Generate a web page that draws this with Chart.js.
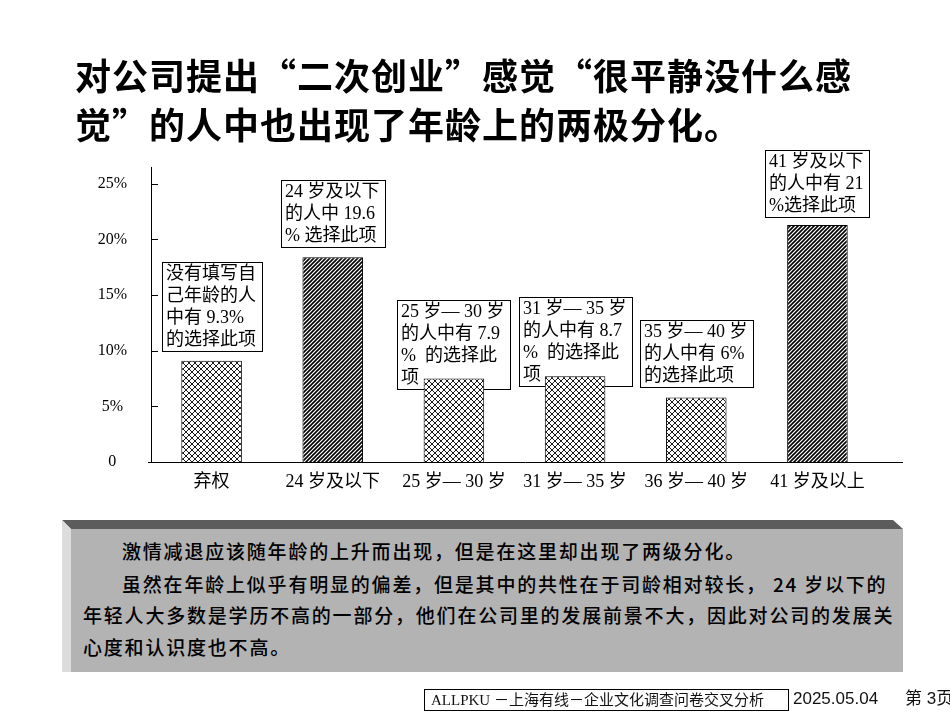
<!DOCTYPE html>
<html lang="zh-CN">
<head>
<meta charset="utf-8">
<script src="https://cdn.jsdelivr.net/npm/chart.js@4.4.1/dist/chart.umd.min.js"></script>
<style>
  body { margin: 0; background: #fff; }
  #page { position: relative; width: 950px; height: 713px; overflow: hidden; font-family: "Noto Sans CJK SC", sans-serif; }
  #chart { position: absolute; left: 0; top: 0; }
  .title { position: absolute; left: 75px; top: 50px; font-size: 36px; font-weight: bold; line-height: 49px; letter-spacing: 1px; color: #000; white-space: nowrap; }
  .panel { position: absolute; left: 62px; top: 520px; width: 841px; height: 152px; }
  .panel div { position: absolute; }
  .face { left: 9px; top: 9px; right: 0; bottom: 0; background: #b3b3b3; }
  .topBevel { left: 0; top: 0; width: 841px; height: 9px; background: #5c5c5c; clip-path: polygon(0 0, 831px 0, 841px 9px, 9px 9px); }
  .leftBevel { left: 0; top: 0; width: 9px; height: 152px; background: #dcdcdc; clip-path: polygon(0 0, 9px 9px, 9px 152px, 0 152px); }
  .line { left: 21px; font-size: 19px; font-weight: 500; line-height: 32px; letter-spacing: 1.8px; color: #000; white-space: nowrap; }
  .indent { left: 60px; }
  .footer { position: absolute; top: 689px; font-size: 15px; line-height: 20px; white-space: nowrap; color: #111; }
  .footBox { left: 424px; width: 357px; height: 20px; border: 1px solid #000; padding-left: 6px; font-family: "Liberation Serif", "Noto Sans CJK SC", serif; }
  .date { left: 793px; font-family: "Liberation Sans", "Noto Sans CJK SC", sans-serif; font-size: 17px; }
  .pageNo { left: 905px; font-family: "Liberation Sans", "Noto Sans CJK SC", sans-serif; font-size: 17px; }
</style>
</head>
<body>
<div id="page">
  <canvas id="chart" width="950" height="713"></canvas>
  <div class="title">对公司提出“二次创业”感觉“很平静没什么感<br>觉”的人中也出现了年龄上的两极分化。</div>
  <div class="panel">
    <div class="face"></div>
    <div class="topBevel"></div>
    <div class="leftBevel"></div>
    <div class="line indent" style="top:15px">激情减退应该随年龄的上升而出现，但是在这里却出现了两级分化。</div>
    <div class="line indent" style="top:48px">虽然在年龄上似乎有明显的偏差，但是其中的共性在于司龄相对较长， 24 岁以下的</div>
    <div class="line" style="top:79px">年轻人大多数是学历不高的一部分，他们在公司里的发展前景不大，因此对公司的发展关</div>
    <div class="line" style="top:111px">心度和认识度也不高。</div>
  </div>
  <div class="footer footBox">ALLPKU －上海有线－企业文化调查问卷交叉分析</div>
  <div class="footer date">2025.05.04</div>
  <div class="footer pageNo">第 3页</div>
</div>
<script>
// data
const categories = ['弃权', '24 岁及以下', '25 岁— 30 岁', '31 岁— 35 岁', '36 岁— 40 岁', '41 岁及以上'];
const shares = [9.1, 18.4, 7.5, 7.7, 5.8, 21.3];
const yTicks = [0, 5, 10, 15, 20, 25];
const notes = [
  ['没有填写自', '己年龄的人', '中有 9.3%', '的选择此项'],
  ['24 岁及以下', '的人中 19.6', '% 选择此项'],
  ['25 岁— 30 岁', '的人中有 7.9', '%  的选择此', '项'],
  ['31 岁— 35 岁', '的人中有 8.7', '%  的选择此', '项'],
  ['35 岁— 40 岁', '的人中有 6%', '的选择此项'],
  ['41 岁及以下', '的人中有 21', '%选择此项']
];
const darkBars = [false, true, false, false, false, true];

// gap between note box bottom and bar top (negative = box overlaps the bar)
const noteGap = [10, 10, -10, -10, 10, 8];

function crossHatch() {
  const c = document.createElement('canvas');
  c.width = 6; c.height = 6;
  const g = c.getContext('2d');
  g.fillStyle = '#fff';
  g.fillRect(0, 0, 6, 6);
  g.strokeStyle = '#000';
  g.lineWidth = 0.9;
  g.beginPath();
  g.moveTo(0, 0); g.lineTo(6, 6);
  g.moveTo(6, 0); g.lineTo(0, 6);
  g.stroke();
  return g.createPattern(c, 'repeat');
}

function diagHatch() {
  const c = document.createElement('canvas');
  c.width = 4; c.height = 4;
  const g = c.getContext('2d');
  g.fillStyle = '#fff';
  g.fillRect(0, 0, 4, 4);
  g.strokeStyle = '#000';
  g.lineWidth = 1.6;
  g.beginPath();
  g.moveTo(-1, 5); g.lineTo(5, -1);
  g.moveTo(-1, 1); g.lineTo(1, -1);
  g.moveTo(3, 5); g.lineTo(5, 3);
  g.stroke();
  return g.createPattern(c, 'repeat');
}

const cross = crossHatch();
const diag = diagHatch();
const fills = darkBars.map(d => d ? diag : cross);

const labelFont = { family: '"Liberation Serif", "Noto Sans CJK SC", serif', size: 18 };

const notesPlugin = {
  id: 'notes',
  beforeDatasetsDraw(chart) {
    const ctx = chart.ctx;
    const bars = chart.getDatasetMeta(0).data;
    ctx.save();
    ctx.font = '18px "Liberation Serif", "Noto Sans CJK SC", serif';
    ctx.textBaseline = 'middle';
    notes.forEach((lines, i) => {
      const bar = bars[i];
      const w = Math.round(Math.max(...lines.map(t => ctx.measureText(t).width)) + 10);
      const h = lines.length * 22 + 1;
      const bottom = Math.round(bar.y - noteGap[i]);
      const left = Math.round(bar.x - w / 2);
      ctx.fillStyle = '#fff';
      ctx.fillRect(left, bottom - h, w, h);
      ctx.strokeStyle = '#000';
      ctx.lineWidth = 1;
      ctx.strokeRect(left + 0.5, bottom - h + 0.5, w, h);
      ctx.fillStyle = '#000';
      lines.forEach((t, j) => ctx.fillText(t, left + 4, bottom - h + 12 + j * 22));
    });
    ctx.restore();
  }
};

const axisPlugin = {
  id: 'axisMarks',
  afterDatasetsDraw(chart) {
    const { ctx, chartArea, scales: { y } } = chart;
    ctx.save();
    ctx.strokeStyle = '#000';
    ctx.lineWidth = 1;
    ctx.beginPath();
    const by = Math.round(y.getPixelForValue(0)) + 0.5;
    ctx.moveTo(chartArea.left - 3, by);
    ctx.lineTo(chartArea.right + 25, by);
    yTicks.forEach(v => {
      if (v === 0) return;
      const py = Math.round(y.getPixelForValue(v)) + 0.5;
      ctx.moveTo(chartArea.left, py);
      ctx.lineTo(chartArea.left + 7, py);
    });
    ctx.stroke();
    ctx.restore();
  }
};

new Chart(document.getElementById('chart'), {
  type: 'bar',
  data: {
    labels: categories,
    datasets: [{
      data: shares,
      backgroundColor: fills,
      borderColor: '#000',
      borderWidth: 1,
      barPercentage: 0.5,
      categoryPercentage: 1
    }]
  },
  options: {
    responsive: false,
    animation: false,
    layout: { padding: { left: 95, right: 72, top: 167, bottom: 211 } },
    plugins: { legend: { display: false }, tooltip: { enabled: false } },
    scales: {
      x: {
        grid: { display: false, drawTicks: false },
        border: { display: false },
        ticks: { font: labelFont, color: '#000', padding: 9, maxRotation: 0, autoSkip: false },
        afterFit: s => { s.height = 40; }
      },
      y: {
        min: 0,
        max: 26.5,
        grid: { display: false, drawTicks: false },
        border: { display: true, color: '#000', width: 1 },
        afterBuildTicks: s => { s.ticks = yTicks.map(v => ({ value: v })); },
        ticks: {
          font: { family: '"Liberation Serif", serif', size: 16 },
          color: '#000',
          padding: 24,
          crossAlign: 'center',
          callback: v => v === 0 ? '0' : v + '%'
        },
        afterFit: s => { s.width = 56; }
      }
    }
  },
  plugins: [notesPlugin, axisPlugin]
});
</script>
</body>
</html>
